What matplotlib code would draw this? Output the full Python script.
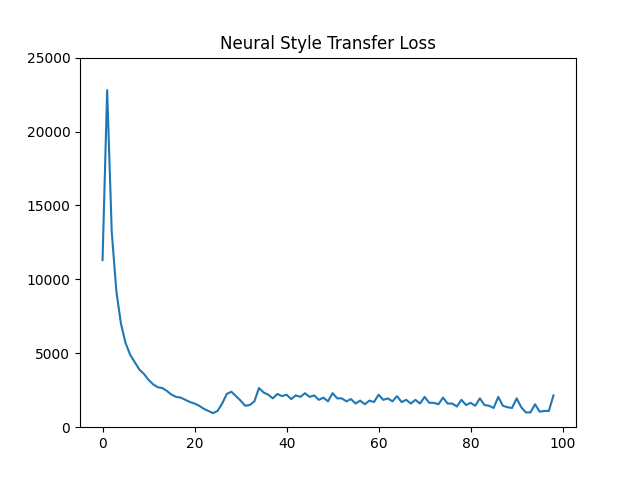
import matplotlib
matplotlib.use("Agg")
import matplotlib.pyplot as plt

# loss por iteracion
loss = [11300, 22800, 13200, 9200, 7000, 5700, 4900, 4400, 3900, 3600,
        3200, 2900, 2700, 2650, 2450, 2200, 2050, 2000, 1850, 1700,
        1600, 1450, 1250, 1100, 950, 1100, 1600, 2250, 2400, 2100,
        1800, 1450, 1500, 1750, 2650, 2350, 2200, 1950, 2250, 2100,
        2200, 1900, 2150, 2050, 2300, 2050, 2150, 1850, 2000, 1750,
        2300, 1950, 1950, 1750, 1900, 1600, 1800, 1550, 1800, 1700,
        2200, 1850, 1950, 1750, 2100, 1700, 1850, 1600, 1850, 1600,
        2050, 1650, 1650, 1550, 2000, 1600, 1600, 1400, 1850, 1500,
        1650, 1450, 1950, 1500, 1450, 1300, 2050, 1450, 1350, 1300,
        1950, 1350, 1000, 1000, 1550, 1050, 1100, 1100, 2150]
steps = list(range(len(loss)))

plt.figure(figsize=(6.4, 4.8), dpi=100)
plt.plot(steps, loss)
plt.title("Neural Style Transfer Loss")
plt.ylim(0, 25000)
plt.savefig("out.png")
